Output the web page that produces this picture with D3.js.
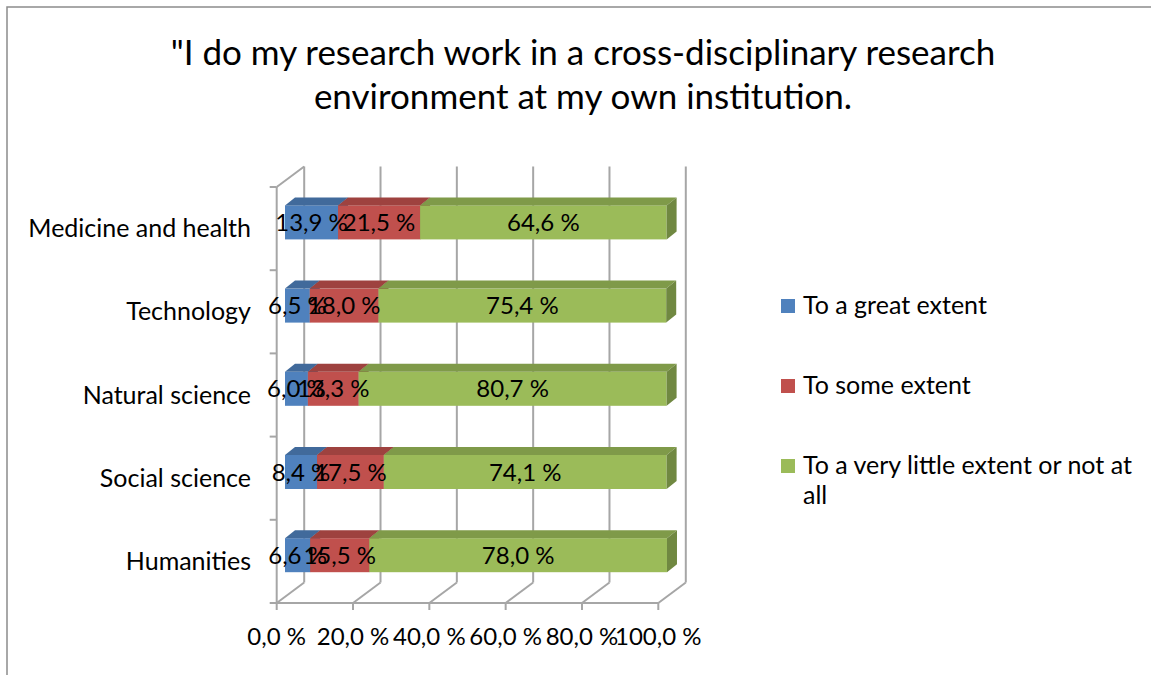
<!DOCTYPE html>
<html>
<head>
<meta charset="utf-8">
<script src="https://cdn.jsdelivr.net/npm/d3@7"></script>
<style>
  html, body { margin: 0; padding: 0; background: #fff; }
  svg { display: block; font-family: Lato, "Open Sans", sans-serif; }
</style>
</head>
<body>
<svg id="chart" width="1151" height="675"></svg>
<script>
const categories = ["Medicine and health", "Technology", "Natural science", "Social science", "Humanities"];
const seriesNames = ["To a great extent", "To some extent", "To a very little extent or not at all"];
const greatExtent = [13.9, 6.5, 6.0, 8.4, 6.6];
const someExtent = [21.5, 18.0, 13.3, 17.5, 15.5];
const littleExtent = [64.6, 75.4, 80.7, 74.1, 78.0];
const tickValues = [0, 20, 40, 60, 80, 100];
const titleLines = ["\"I do my research work in a cross-disciplinary research", "environment at my own institution."];
const legendLines = [["To a great extent"], ["To some extent"], ["To a very little extent or not at", "all"]];
const colors = ["#4F81BD", "#C0504D", "#9BBB59"];

const svg = d3.select("#chart");
const fmt = v => d3.format(".1f")(v).replace(".", ",") + " %";

// outer frame (top & left edges visible)
svg.append("rect").attr("x", 7).attr("y", 7).attr("width", 1160).attr("height", 700)
  .attr("fill", "none").attr("stroke", "#8c8c8c").attr("stroke-width", 1.5);

// title
svg.append("g").selectAll("text").data(titleLines).join("text")
  .attr("x", 583).attr("y", (d, i) => 65 + i * 44)
  .attr("text-anchor", "middle").attr("font-size", 35).attr("fill", "#000")
  .text(d => d);

// geometry
const x = d3.scaleLinear().domain([0, 100]).range([276.7, 658.3]);
const y = d3.scaleBand().domain(categories).range([187, 603]);
const DX = 27.5, DY = -20.5;           // wall depth
const FX = 8.3, FY = -6.2;             // bar front-plane offset
const BX = 10, BY = -8;                // bar depth
const barH = 34;
const gridColor = "#a6a6a6";

const grid = svg.append("g").attr("stroke", gridColor).attr("stroke-width", 2).attr("fill", "none");
grid.selectAll("line.v").data(tickValues).join("line").attr("class", "v")
  .attr("x1", d => x(d) + DX).attr("x2", d => x(d) + DX)
  .attr("y1", y.range()[0] + DY).attr("y2", y.range()[1] + DY);
grid.selectAll("line.f").data(tickValues).join("line").attr("class", "f")
  .attr("x1", d => x(d)).attr("x2", d => x(d) + DX)
  .attr("y1", y.range()[1]).attr("y2", y.range()[1] + DY);
grid.append("line").attr("x1", x(0)).attr("x2", x(0)).attr("y1", y.range()[0]).attr("y2", y.range()[1]);
grid.append("line").attr("x1", x(0)).attr("x2", x(0) + DX).attr("y1", y.range()[0]).attr("y2", y.range()[0] + DY);
const bounds = categories.map(c => y(c)).concat([y.range()[1]]);
grid.selectAll("line.lt").data(bounds).join("line").attr("class", "lt")
  .attr("x1", x(0) - 7).attr("x2", x(0)).attr("y1", d => d).attr("y2", d => d);
grid.append("line").attr("x1", x(0)).attr("x2", x(100)).attr("y1", y.range()[1]).attr("y2", y.range()[1]);
grid.selectAll("line.bt").data(tickValues).join("line").attr("class", "bt")
  .attr("x1", d => x(d)).attr("x2", d => x(d)).attr("y1", y.range()[1]).attr("y2", y.range()[1] + 7);

// bars
const series = [greatExtent, someExtent, littleExtent];
const segs = [];
categories.forEach((c, ci) => {
  let acc = 0;
  series.forEach((s, si) => {
    segs.push({cat: c, si, x0: acc, x1: acc + s[ci], v: s[ci]});
    acc += s[ci];
  });
});
const bars = svg.append("g");
segs.forEach(d => {
  const xa = x(d.x0) + FX, xb = x(d.x1) + FX;
  const yc = y(d.cat) + y.bandwidth() / 2 + FY;
  const yt = yc - barH / 2, yb = yc + barH / 2;
  const col = d3.color(colors[d.si]);
  const g = bars.append("g");
  g.append("rect").attr("x", xa).attr("y", yt).attr("width", xb - xa).attr("height", barH).attr("fill", colors[d.si]);
  g.append("path").attr("d", `M${xa},${yt}L${xa + BX},${yt + BY}L${xb + BX},${yt + BY}L${xb},${yt}Z`)
    .attr("fill", col.darker(0.55).formatHex());
  g.append("path").attr("d", `M${xb},${yt}L${xb + BX},${yt + BY}L${xb + BX},${yb + BY}L${xb},${yb}Z`)
    .attr("fill", col.darker(0.9).formatHex());
});
// data labels
svg.append("g").selectAll("text").data(segs).join("text")
  .attr("x", d => (x(d.x0) + x(d.x1)) / 2 + FX)
  .attr("y", d => y(d.cat) + y.bandwidth() / 2 + FY + 8.5)
  .attr("text-anchor", "middle").attr("font-size", 24).attr("fill", "#000")
  .text(d => fmt(d.v));

// category labels
svg.append("g").selectAll("text").data(categories).join("text")
  .attr("x", 251).attr("y", d => y(d) + y.bandwidth() / 2 + 8.5)
  .attr("text-anchor", "end").attr("font-size", 25).attr("fill", "#000")
  .text(d => d);

// x tick labels
svg.append("g").selectAll("text").data(tickValues).join("text")
  .attr("x", d => x(d)).attr("y", 645)
  .attr("text-anchor", "middle").attr("font-size", 24).attr("fill", "#000")
  .text(d => fmt(d));

// legend
const legY = [306, 386, 466];
const leg = svg.append("g");
seriesNames.forEach((n, i) => {
  leg.append("rect").attr("x", 781).attr("y", legY[i] - 7).attr("width", 14).attr("height", 14).attr("fill", colors[i]);
});
legendLines.forEach((lines, i) => {
  lines.forEach((t, j) => {
    leg.append("text").attr("x", 803).attr("y", legY[i] + 8 + j * 30)
      .attr("font-size", 25).attr("fill", "#000").text(t);
  });
});
</script>
</body>
</html>
